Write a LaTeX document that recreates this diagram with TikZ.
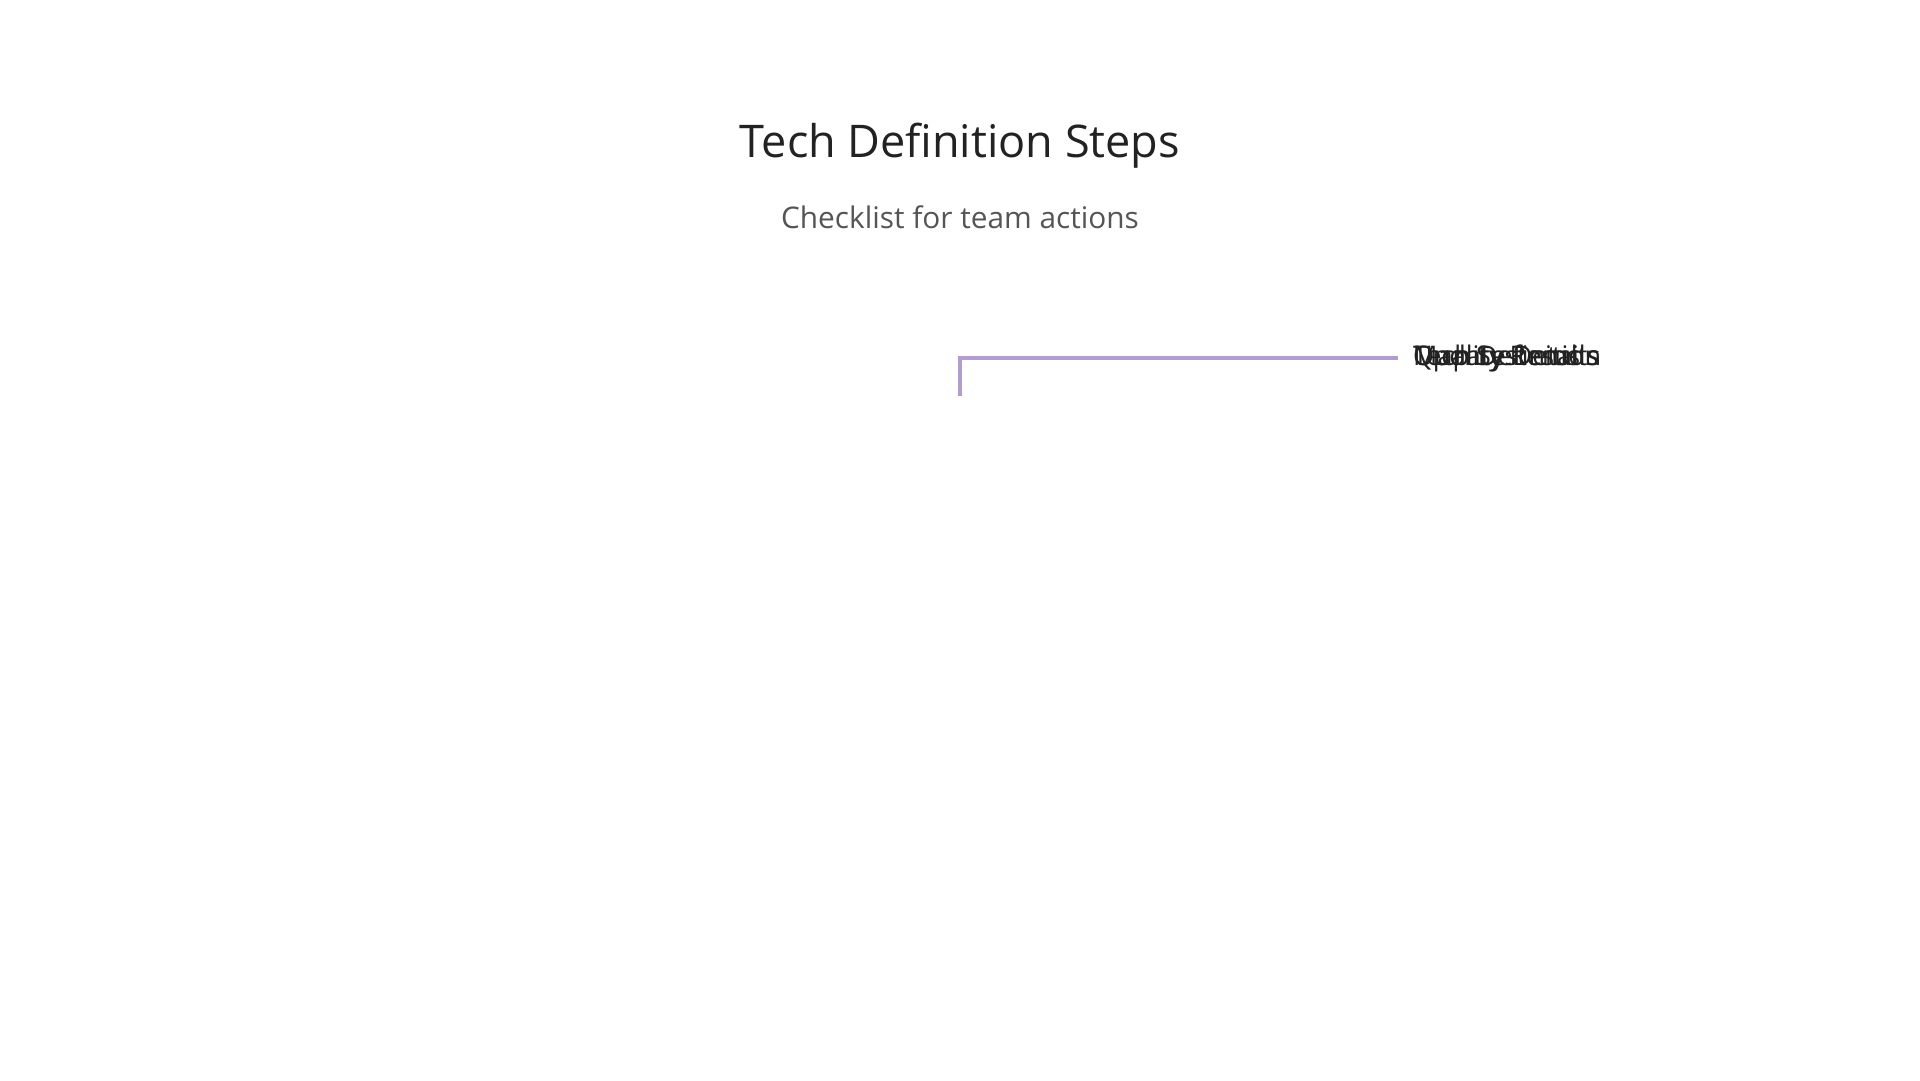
\documentclass[tikz,border=0pt]{standalone}
\usepackage{fontspec}
\setmainfont{Open Sans}
\definecolor{titlec}{HTML}{222222}
\definecolor{subc}{HTML}{555555}
\definecolor{linec}{HTML}{B39DD0}
\definecolor{labc}{HTML}{222222}
\begin{document}
\begin{tikzpicture}[x=1pt,y=1pt,
  titlestyle/.style={inner sep=0pt, text=titlec, font=\fontsize{45}{54}\selectfont},
  substyle/.style={inner sep=0pt, text=subc, font=\fontsize{29.8}{35}\selectfont},
  labstyle/.style={inner sep=0pt, anchor=base west, text=labc, font=\fontsize{27}{32}\selectfont},
  conn/.style={draw=linec, line width=4pt}]
\useasboundingbox (0,0) rectangle (1920,-1080);
\fill[white] (0,0) rectangle (1920,-1080);
\node[titlestyle, anchor=base] (title) at (960,-157) {Tech Definition Steps};
\node[substyle, anchor=base] (subtitle) at (960,-228) {Checklist for team actions};
\node[labstyle] (l1) at (1413,-365) {Tech Definition};
\node[labstyle] (l2) at (1413,-365) {Map Systems};
\node[labstyle] (l3) at (1413,-365) {Update Details};
\node[labstyle] (l4) at (1413,-365) {Quality Results};
\coordinate (root) at (960,-396);
\draw[conn] (root) |- ([xshift=-15pt,yshift=7pt]l1.base west);
\end{tikzpicture}
\end{document}
